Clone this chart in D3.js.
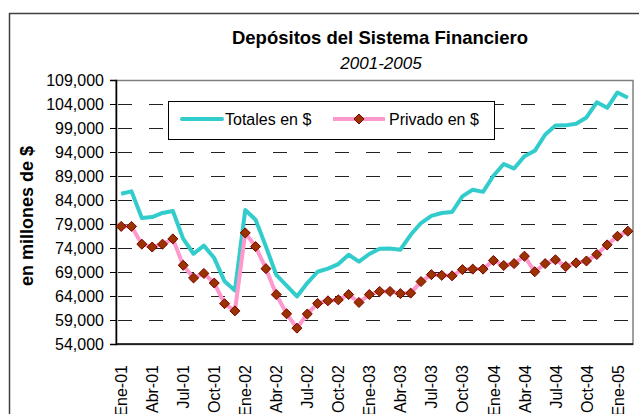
<!DOCTYPE html>
<meta charset="utf-8">
<style>
    body { margin: 0; background: #fff; }
    text { font-family: "Liberation Sans", Arial, sans-serif; }
    .grid line { stroke: #222; stroke-dasharray: 14 17; }
</style>
<body>
<div id="chart"></div>
<script src="https://cdn.jsdelivr.net/npm/d3@7"></script>
<script>
    var meses = ["Ene-01","Feb-01","Mar-01","Abr-01","May-01","Jun-01","Jul-01","Ago-01","Sep-01","Oct-01","Nov-01","Dic-01",
                 "Ene-02","Feb-02","Mar-02","Abr-02","May-02","Jun-02","Jul-02","Ago-02","Sep-02","Oct-02","Nov-02","Dic-02",
                 "Ene-03","Feb-03","Mar-03","Abr-03","May-03","Jun-03","Jul-03","Ago-03","Sep-03","Oct-03","Nov-03","Dic-03",
                 "Ene-04","Feb-04","Mar-04","Abr-04","May-04","Jun-04","Jul-04","Ago-04","Sep-04","Oct-04","Nov-04","Dic-04",
                 "Ene-05","Feb-05"];

    var totales = [85300, 85800, 80250, 80450, 81300, 81700, 75900, 72800, 74500, 71900, 67050, 65150,
                   81900, 79900, 74300, 68400, 66150, 63900, 66700, 69050, 69700, 70650, 72600, 71150,
                   72750, 73850, 73900, 73650, 76750, 79200, 80700, 81300, 81500, 84750, 86150, 85700,
                   89050, 91500, 90550, 93100, 94250, 97600, 99500, 99550, 99900, 101200, 104350, 103200,
                   106400, 105300];

    var privado = [78500, 78500, 74800, 74200, 74800, 75900, 70400, 67750, 68700, 66700, 62400, 60900,
                   77150, 74300, 69700, 64300, 60300, 57300, 60250, 62450, 63000, 63200, 64300, 62650,
                   64300, 64950, 64950, 64500, 64600, 67000, 68450, 68300, 68200, 69500, 69600, 69600,
                   71400, 70350, 70750, 72300, 69050, 70750, 71550, 70150, 70900, 71300, 72650, 74650,
                   76450, 77500];

    var etiquetasX = ["Ene-01","Abr-01","Jul-01","Oct-01","Ene-02","Abr-02","Jul-02","Oct-02","Ene-03",
                      "Abr-03","Jul-03","Oct-03","Ene-04","Abr-04","Jul-04","Oct-04","Ene-05"];
    var ticksY = [54000, 59000, 64000, 69000, 74000, 79000, 84000, 89000, 94000, 99000, 104000, 109000];

    var width = 639,
        height = 414;
    var plotL = 116, plotR = 633, plotT = 80, plotB = 344;

    var svg = d3.select("#chart").append("svg")
        .attr("width", width)
        .attr("height", height);

    // outer chart frame (cut by the picture on right/bottom)
    svg.append("rect")
        .attr("x", 9.5).attr("y", 13.5)
        .attr("width", 700).attr("height", 500)
        .attr("fill", "#fff")
        .attr("stroke", "#404040")
        .attr("stroke-width", 1.5);

    var x = d3.scalePoint()
        .domain(meses)
        .range([plotL, plotR])
        .padding(0.5);

    var y = d3.scaleLinear()
        .domain([54000, 109000])
        .range([plotB, plotT]);

    // plot area border
    svg.append("rect")
        .attr("x", plotL).attr("y", plotT + 0.5)
        .attr("width", plotR - plotL).attr("height", plotB - plotT)
        .attr("fill", "#fff")
        .attr("stroke", "#808080")
        .attr("stroke-width", 1.5);

    // dashed gridlines
    svg.append("g")
        .attr("class", "grid")
        .selectAll("line")
        .data(ticksY.slice(1, -1))
        .enter().append("line")
        .attr("x1", plotL + 2)
        .attr("x2", plotR - 4)
        .attr("y1", function (d) { return Math.round(y(d)) + 0.5; })
        .attr("y2", function (d) { return Math.round(y(d)) + 0.5; });

    // y axis
    var yAxis = svg.append("g")
        .attr("transform", "translate(" + plotL + ",0)")
        .call(d3.axisLeft(y).tickValues(ticksY).tickSize(6).tickPadding(6)
            .tickFormat(d3.format(",")));
    yAxis.select(".domain").attr("stroke", "#000").attr("stroke-width", 1.5);
    yAxis.selectAll("text").style("font-size", "16px").attr("fill", "#000");

    // x axis
    var xAxis = svg.append("g")
        .attr("transform", "translate(0," + plotB + ")")
        .call(d3.axisBottom(x).tickValues(etiquetasX).tickSize(0).tickPadding(0));
    xAxis.select(".domain").attr("d", "M" + plotL + ",0H" + plotR).attr("stroke", "#000").attr("stroke-width", 1.5);
    xAxis.selectAll("text")
        .style("font-size", "16px")
        .attr("fill", "#000")
        .attr("transform", "rotate(-90)")
        .attr("x", -21)
        .attr("y", 0)
        .attr("dy", "0.35em")
        .style("text-anchor", "end");

    // series
    var linea = d3.line()
        .x(function (d, i) { return x(meses[i]); })
        .y(function (d) { return y(d); });

    svg.append("path")
        .datum(totales)
        .attr("fill", "none")
        .attr("stroke", "#33CCCC")
        .attr("stroke-width", 4)
        .attr("stroke-linejoin", "round")
        .attr("d", linea);

    svg.append("path")
        .datum(privado)
        .attr("fill", "none")
        .attr("stroke", "#FF99CC")
        .attr("stroke-width", 4)
        .attr("stroke-linejoin", "round")
        .attr("d", linea);

    var diamond = d3.symbol().type(d3.symbolDiamond2).size(64);

    svg.selectAll(".marker")
        .data(privado)
        .enter().append("path")
        .attr("class", "marker")
        .attr("d", diamond)
        .attr("transform", function (d, i) {
            return "translate(" + x(meses[i]) + "," + y(d) + ")";
        })
        .attr("fill", "#993300")
        .attr("stroke", "#800000")
        .attr("stroke-width", 1);

    // legend
    var leg = svg.append("g");
    leg.append("rect")
        .attr("x", 168.5).attr("y", 101.5)
        .attr("width", 326).attr("height", 38)
        .attr("fill", "#fff")
        .attr("stroke", "#000");
    leg.append("line")
        .attr("x1", 182).attr("x2", 222).attr("y1", 119).attr("y2", 119)
        .attr("stroke", "#33CCCC").attr("stroke-width", 4).attr("stroke-linecap", "round");
    leg.append("text")
        .attr("x", 225).attr("y", 125)
        .style("font-size", "16px")
        .text("Totales en $");
    leg.append("line")
        .attr("x1", 333).attr("x2", 385).attr("y1", 119).attr("y2", 119)
        .attr("stroke", "#FF99CC").attr("stroke-width", 4);
    leg.append("path")
        .attr("d", diamond)
        .attr("transform", "translate(359,119)")
        .attr("fill", "#993300")
        .attr("stroke", "#800000");
    leg.append("text")
        .attr("x", 389).attr("y", 125)
        .style("font-size", "16px")
        .text("Privado en $");

    // titles
    svg.append("text")
        .attr("x", 380).attr("y", 44)
        .attr("text-anchor", "middle")
        .style("font-size", "18.5px")
        .style("font-weight", "bold")
        .text("Depósitos del Sistema Financiero");
    svg.append("text")
        .attr("x", 381).attr("y", 69)
        .attr("text-anchor", "middle")
        .style("font-size", "17px")
        .style("font-style", "italic")
        .text("2001-2005");
    svg.append("text")
        .attr("transform", "translate(33,216) rotate(-90)")
        .attr("text-anchor", "middle")
        .style("font-size", "18px")
        .style("font-weight", "bold")
        .text("en millones de $");
</script>
</body>
